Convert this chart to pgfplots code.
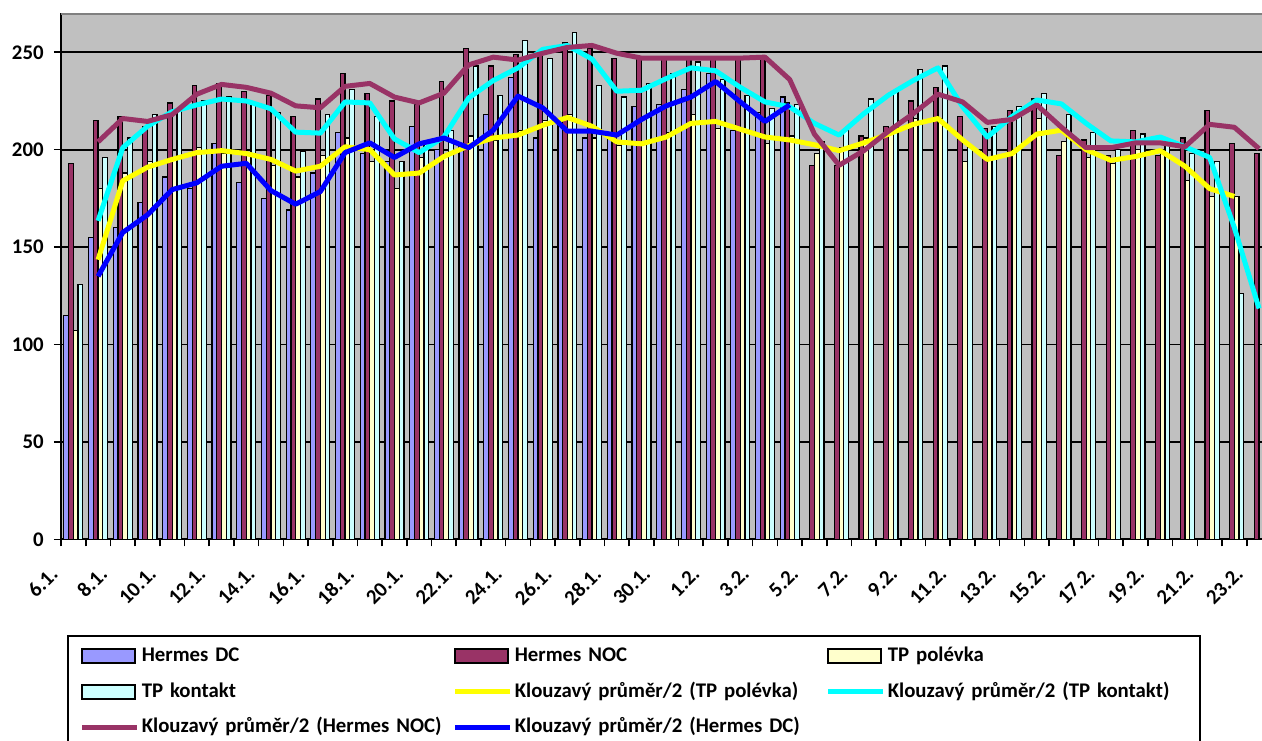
\documentclass[border=0pt]{standalone}
\usepackage{fontspec}
\setmainfont{Carlito}
\usepackage{pgfplots}
\usepackage{pgfplotstable}
\pgfplotsset{compat=1.18}

\definecolor{plotbg}{RGB}{192,192,192}
\definecolor{dcfill}{RGB}{153,153,255}
\definecolor{nocfill}{RGB}{153,51,102}
\definecolor{tppfill}{RGB}{255,255,204}
\definecolor{tpkfill}{RGB}{204,255,255}
\definecolor{borderg}{RGB}{128,128,128}
\definecolor{yline}{RGB}{255,255,0}
\definecolor{cline}{RGB}{0,255,255}
\definecolor{bline}{RGB}{0,0,255}

\newcommand{\lblfont}{\fontsize{10.4}{12}\selectfont\bfseries}

% x = day index (0 = 6.1.), bars and 2-day moving averages
\pgfplotstableread{
x  dc   noc  tpp  tpk  madc   manoc  matpp  matpk
0  115  193  107  131  nan    nan    nan    nan
1  155  215  180  196  135    204    143.5  163.5
2  160  217  188  206  157.5  216    184    201
3  173  212  194  218  166.5  214.5  191    212
4  186  224  196  221  179.5  218    195    219.5
5  180  233  201  225  183    228.5  198.5  223
6  203  234  198  227  191.5  233.5  199.5  226
7  183  230  198  223  193    232    198    225
8  175  228  192  219  179    229    195    221
9  169  217  186  199  172    222.5  189    209
10 188  226  197  218  178.5  221.5  191.5  208.5
11 209  239  206  231  198.5  232.5  201.5  224.5
12 198  229  194  217  203.5  234    200    224
13 194  225  180  194  196    227    187    205.5
14 212  223  196  203  203    224    188    198.5
15 200  235  197  210  206    229    196.5  206.5
16 202  252  207  243  201    243.5  202    226.5
17 218  243  205  228  210    247.5  206    235.5
18 237  249  210  256  227.5  246    207.5  242
19 206  250  215  247  221.5  249.5  212.5  251.5
20 213  255  218  260  209.5  252.5  216.5  253.5
21 206  252  206  233  209.5  253.5  212    246.5
22 209  247  202  227  207.5  249.5  204    230
23 222  247  204  234  215.5  247    203    230.5
24 223  247  209  239  222.5  247    206.5  236.5
25 231  247  218  245  227    247    213.5  242
26 239  247  211  236  235    247    214.5  240.5
27 210  247  210  228  224.5  247    210.5  232
28 219  248  203  221  214.5  247.5  206.5  224.5
29 227  224  207  223  223    236    205    222
30 nan  192  198  204  nan    208    202.5  213.5
31 nan  192  201  211  nan    192    199.5  207.5
32 nan  207  206  226  nan    199.5  203.5  218.5
33 nan  212  210  230  nan    209.5  208    228
34 nan  225  216  241  nan    218.5  213    235.5
35 nan  232  216  243  nan    228.5  216    242
36 nan  217  194  201  nan    224.5  205    222
37 nan  211  196  212  nan    214    195    206.5
38 nan  220  200  222  nan    215.5  198    217
39 nan  226  216  229  nan    223    208    225.5
40 nan  197  204  218  nan    211.5  210    223.5
41 nan  205  196  209  nan    201    200    213.5
42 nan  197  193  200  nan    201    194.5  204.5
43 nan  210  200  208  nan    203.5  196.5  204
44 nan  197  199  205  nan    203.5  199.5  206.5
45 nan  206  184  198  nan    201.5  191.5  201.5
46 nan  220  176  194  nan    213    180    196
47 nan  203  176  126  nan    211.5  176    160
48 nan  198  nan  111  nan    200.5  nan    118.5
}\chartdata

\pgfplotsset{
  barleg/.style={legend image code/.code={\draw[fill=#1, draw=black, line width=1pt] (0pt,-3.5pt) rectangle (26.5pt,3.5pt);}},
  lineleg/.style={legend image code/.code={\draw[#1, line width=2.5pt] (0pt,0pt) -- (27.5pt,0pt);}},
  barstyle/.style={ybar, bar width=0.192, draw=black, line width=0.6pt, fill=#1},
}

\begin{document}
\begin{tikzpicture}
\useasboundingbox (-30.5pt,-100.35pt) rectangle (600.5pt,269.65pt);
\begin{axis}[
    name=ax,
    at={(0pt,0pt)}, anchor=south west,
    scale only axis,
    width=600.5pt, height=263pt,
    xmin=-0.5, xmax=48.12,
    ymin=0, ymax=270,
    axis lines*=left,
    axis line style={black, line width=1.1pt},
    axis background/.style={fill=plotbg},
    ymajorgrids,
    grid style={black, line width=0.9pt},
    ytick={0,50,...,250},
    xtick={-0.5,0.5,...,47.5},
    xticklabels={},
    extra x ticks={0,2,...,48},
    extra x tick labels={6.1.,8.1.,10.1.,12.1.,14.1.,16.1.,18.1.,20.1.,22.1.,24.1.,26.1.,28.1.,30.1.,1.2.,3.2.,5.2.,7.2.,9.2.,11.2.,13.2.,15.2.,17.2.,19.2.,21.2.,23.2.},
    extra x tick style={major tick length=0pt, grid=none},
    tick align=outside,
    major tick length=3.5pt,
    tick style={black, line width=0.8pt},
    /pgf/number format/assume math mode=true,
    yticklabel style={font=\lblfont, anchor=east, inner sep=0pt, xshift=-5pt},
    xticklabel style={font=\lblfont, xshift=-12.2pt, yshift=-13pt, rotate=45, anchor=north east, inner sep=0pt},
    legend columns=3,
    legend cell align=left,
    legend style={at={(0,0)}, anchor=north west, xshift=3pt, yshift=-47.85pt,
        draw=black, line width=0.8pt, fill=white,
        inner xsep=6pt, inner ysep=4.75pt, row sep=7.4pt,
        font=\lblfont,
        nodes={text width=150pt, text height=8pt, text depth=2.5pt, inner xsep=0pt, inner ysep=0pt, align=left},
        /tikz/every odd column/.append style={column sep=1pt},
        /tikz/every even column/.append style={column sep=5.5pt}},
]
\addplot[barstyle=dcfill, bar shift=-0.288, barleg=dcfill] table[x=x, y=dc]{\chartdata};
\addlegendentry{Hermes DC}
\addplot[barstyle=nocfill, bar shift=-0.096, barleg=nocfill] table[x=x, y=noc]{\chartdata};
\addlegendentry{Hermes NOC}
\addplot[barstyle=tppfill, bar shift=0.096, barleg=tppfill] table[x=x, y=tpp]{\chartdata};
\addlegendentry{TP polévka}
\addplot[barstyle=tpkfill, bar shift=0.288, barleg=tpkfill] table[x=x, y=tpk]{\chartdata};
\addlegendentry{TP kontakt}
\addplot[yline, line width=2.5pt, line join=round, mark=none, lineleg=yline] table[x=x, y=matpp]{\chartdata};
\addlegendentry{Klouzavý průměr/2 (TP polévka)}
\addplot[cline, line width=2.5pt, line join=round, mark=none, lineleg=cline] table[x=x, y=matpk]{\chartdata};
\addlegendentry{Klouzavý průměr/2 (TP kontakt)}
\addplot[nocfill, line width=2.5pt, line join=round, mark=none, lineleg=nocfill] table[x=x, y=manoc]{\chartdata};
\addlegendentry{Klouzavý průměr/2 (Hermes NOC)}
\addplot[bline, line width=2.5pt, line join=round, mark=none, lineleg=bline] table[x=x, y=madc]{\chartdata};
\addlegendentry{Klouzavý průměr/2 (Hermes DC)}
\draw[borderg, line width=1.5pt] (rel axis cs:0,1) -- (rel axis cs:1,1);
\end{axis}
\end{tikzpicture}
\end{document}
